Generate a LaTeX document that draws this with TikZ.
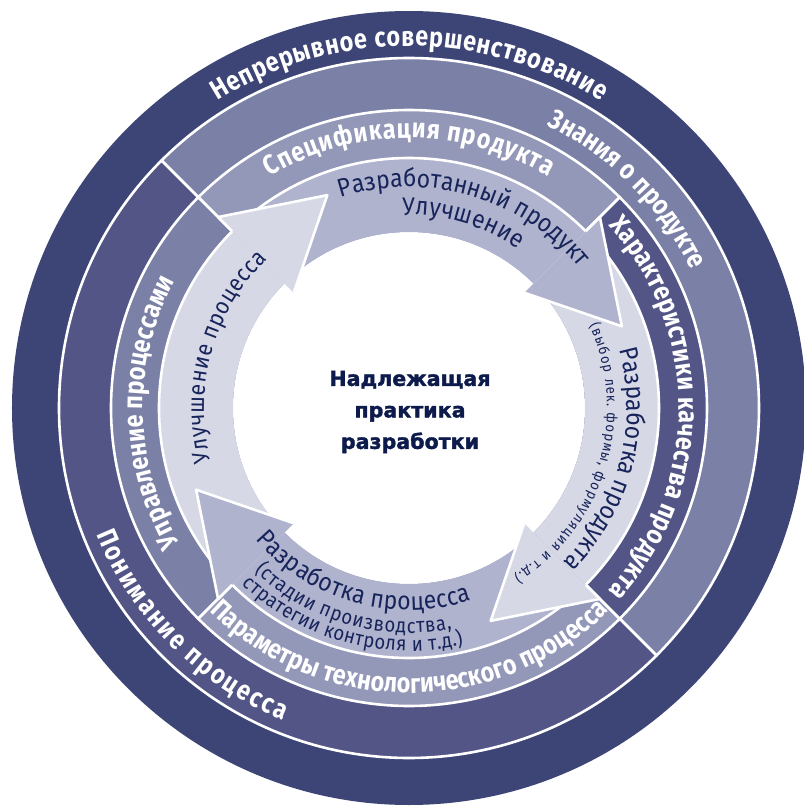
\documentclass[tikz,border=0pt]{standalone}
\usepackage{fontspec}
\usetikzlibrary{decorations.text}
\setmainfont{Fira Sans}
\newfontfamily\ringfamily[FakeStretch=0.85]{Fira Sans}
\newfontfamily\cyclefamily[FakeStretch=0.9]{Fira Sans}
\newfontfamily\hubfamily[BoldFeatures={FakeBold=1.6}]{DejaVu Sans}

\definecolor{rimnavy}{HTML}{3D4576}
\definecolor{slatemid}{HTML}{7B80A6}
\definecolor{slatedeep}{HTML}{535586}
\definecolor{lavender}{HTML}{9397B8}
\definecolor{arrowmid}{HTML}{AFB3CD}
\definecolor{arrowpale}{HTML}{D6D8E6}
\definecolor{inkblue}{HTML}{17245B}
\definecolor{hubblue}{HTML}{0D1B4C}

\newcommand\bandtxt{\ringfamily\bfseries\fontsize{27.5}{27.5}\selectfont\color{white}}
\newcommand\arrowtxt{\cyclefamily\fontsize{25.5}{25.5}\selectfont\color{inkblue}}
\newcommand\arrowtxtsm{\cyclefamily\fontsize{23.5}{23.5}\selectfont\color{inkblue}}
\newcommand\subtxt{\cyclefamily\fontsize{20.5}{20.5}\selectfont\color{inkblue}}
\newcommand\notetxt{\cyclefamily\fontsize{14.5}{14.5}\selectfont\color{inkblue}}

\tikzset{
  sepline/.style={draw=white, line width=2.6pt, line join=round},
  arctext/.style={decorate, decoration={text along path, text align=fit to path, text={#1}}},
}

\begin{document}
\begin{tikzpicture}[x=1pt,y=1pt]
\useasboundingbox (-409,-399) rectangle (395,408);

% outer rim
\fill[rimnavy] (0,0) circle[radius=397];

% knowledge / understanding ring
\filldraw[sepline, fill=slatemid] (0,0) -- (-45:350) arc[start angle=-45,end angle=135,radius=350] -- cycle;
\filldraw[sepline, fill=slatedeep] (0,0) -- (135:350) arc[start angle=135,end angle=315,radius=350] -- cycle;

% specification / attributes / parameters / control ring
\filldraw[sepline, fill=lavender] (0,0) -- (45:298) arc[start angle=45,end angle=135,radius=298] -- cycle;
\filldraw[sepline, fill=slatemid] (0,0) -- (135:298) arc[start angle=135,end angle=225,radius=298] -- cycle;
\filldraw[sepline, fill=lavender] (0,0) -- (225:298) arc[start angle=225,end angle=315,radius=298] -- cycle;
\filldraw[sepline, fill=slatedeep] (0,0) -- (-45:298) arc[start angle=-45,end angle=45,radius=298] -- cycle;

% hub
\fill[white] (0,0) circle[radius=176];

% cycle arrows: bodies
\fill[arrowmid] (135:250) arc[start angle=135,end angle=45,radius=250] -- (45:176) arc[start angle=45,end angle=135,radius=176] -- cycle;
\fill[arrowpale] (45:250) arc[start angle=45,end angle=-45,radius=250] -- (-45:176) arc[start angle=-45,end angle=45,radius=176] -- cycle;
\fill[arrowmid] (-45:250) arc[start angle=-45,end angle=-135,radius=250] -- (-135:176) arc[start angle=-135,end angle=-45,radius=176] -- cycle;
\fill[arrowpale] (-135:250) arc[start angle=-135,end angle=-225,radius=250] -- (-225:176) arc[start angle=-225,end angle=-135,radius=176] -- cycle;
\draw[sepline] (0,0) circle[radius=250];

% cycle arrows: heads
\fill[arrowmid] (45:270) -- (21:228) -- (45:163) -- cycle;
\draw[sepline] (45:250) -- (45:270) -- (21:228) -- (45:163);
\fill[arrowpale] (-45:270) -- (-69:228) -- (-45:163) -- cycle;
\draw[sepline] (-45:250) -- (-45:270) -- (-69:228) -- (-45:163);
\fill[arrowmid] (-135:270) -- (-159:228) -- (-135:163) -- cycle;
\draw[sepline] (-135:250) -- (-135:270) -- (-159:228) -- (-135:163);
\fill[arrowpale] (135:270) -- (111:228) -- (135:163) -- cycle;
\draw[sepline] (135:250) -- (135:270) -- (111:228) -- (135:163);

% ring labels
\path[arctext={|\bandtxt|Непрерывное совершенствование}] (122:362) arc[start angle=122,end angle=58,radius=362];
\path[arctext={|\bandtxt|Знания о продукте}] (64:314.5) arc[start angle=64,end angle=26,radius=314.5];
\path[arctext={|\bandtxt|Понимание процесса}] (202:336.5) arc[start angle=202,end angle=248,radius=336.5];
\path[arctext={|\bandtxt|Спецификация продукта}] (121:270) arc[start angle=121,end angle=59,radius=270];
\path[arctext={|\bandtxt|Характеристики качества продукта}] (42.5:270) arc[start angle=42.5,end angle=-42.5,radius=270];
\path[arctext={|\bandtxt|Управление процессами}] (210.5:266) arc[start angle=210.5,end angle=151.5,radius=266];
\path[arctext={|\bandtxt|Параметры технологического процесса}] (225.5:285) arc[start angle=225.5,end angle=314.5,radius=285];

% arrow labels
\path[arctext={|\arrowtxt|Разработанный продукт}] (108:221) arc[start angle=108,end angle=39.5,radius=221];
\path[arctext={|\arrowtxt|Улучшение}] (92:193) arc[start angle=92,end angle=55.5,radius=193];
\path[arctext={|\arrowtxt|Разработка продукта}] (15.5:218) arc[start angle=15.5,end angle=-44,radius=218];
\path[arctext={|\notetxt|(выбор лек. формы, формуляция и т.д.)}] (24.5:198) arc[start angle=24.5,end angle=-58,radius=198];
\path[arctext={|\arrowtxtsm|Улучшение процесса}] (195:205) arc[start angle=195,end angle=133.5,radius=205];
\path[arctext={|\arrowtxt|Разработка процесса}] (220.5:202) arc[start angle=220.5,end angle=288,radius=202];
\path[arctext={|\subtxt|(стадии производства,}] (226.5:225) arc[start angle=226.5,end angle=281,radius=225];
\path[arctext={|\subtxt|стратегии контроля и т.д.)}] (226.5:243) arc[start angle=226.5,end angle=283,radius=243];

% centre title
\node[font=\hubfamily\bfseries\fontsize{20.6}{31.5}\selectfont, text=hubblue, align=center] (hub) at (1,-4) {Надлежащая\\практика\\разработки};
\end{tikzpicture}
\end{document}
